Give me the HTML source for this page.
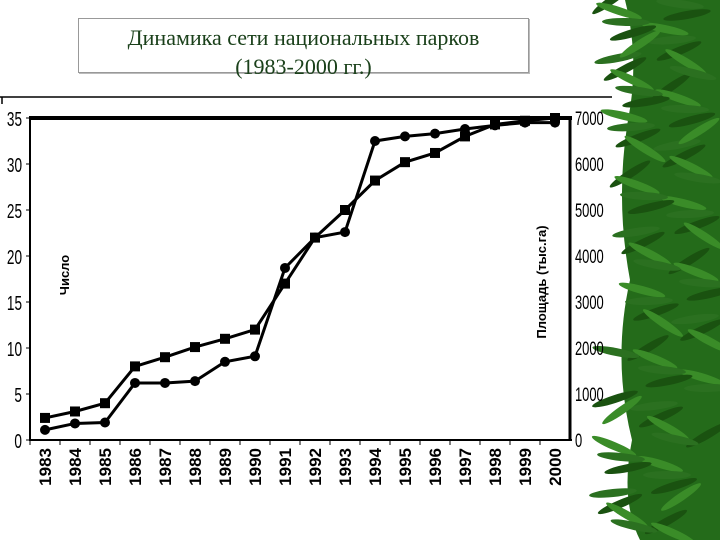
<!DOCTYPE html>
<html><head><meta charset="utf-8">
<style>
body{margin:0;width:720px;height:540px;background:#fff;overflow:hidden;position:relative;font-family:"Liberation Sans",sans-serif}
#title{position:absolute;left:78px;top:18px;width:449px;height:53px;border:1px solid #999;box-shadow:1px 1px 0 #bbb;}
#title div{position:absolute;left:0;width:100%;text-align:center;font-family:"Liberation Serif",serif;font-size:22px;color:#1a401a;line-height:24px}
svg{position:absolute;left:0;top:0}
</style></head><body>
<div id="title">
<div style="top:7px">Динамика сети национальных парков</div>
<div style="top:36px">(1983-2000 гг.)</div>
</div>
<svg id="bam" width="720" height="540"></svg>
<svg id="ch" width="720" height="540"></svg>
<script>
const years=["1983","1984","1985","1986","1987","1988","1989","1990","1991","1992","1993","1994","1995","1996","1997","1998","1999","2000"];
const parkCount=[2.4,3.1,4,8,9,10.1,11,12,17,22,25,28.2,30.2,31.2,33,34.3,34.7,35];
const parkArea=[220,360,380,1240,1240,1280,1700,1820,3740,4400,4520,6500,6600,6660,6760,6840,6900,6900];
const leftTicks=[0,5,10,15,20,25,30,35];
const rightTicks=[0,1000,2000,3000,4000,5000,6000,7000];

const NS="http://www.w3.org/2000/svg";
const ch=document.getElementById('ch');
function mk(t,a,p){const e=document.createElementNS(NS,t);for(const k in a)e.setAttribute(k,a[k]);(p||ch).appendChild(e);return e;}
const X0=45,DX=30,Y0=440,Y1=118;
const xs=i=>X0+i*DX;
const yL=v=>Y0-(v/35)*(Y0-Y1);
const yR=v=>Y0-(v/7000)*(Y0-Y1);

// bamboo
const bam=document.getElementById('bam');
const bg=mk('path',{d:"M720 0 L625 0 Q640 60 628 120 Q615 200 630 280 Q612 360 632 440 Q620 500 640 540 L720 540 Z",fill:"#246b1a"},bam);

for(let i=0;i<80;i++){
  const y=(i*29)%540, x=612+((i*53)%100), ang=-35+((i*47)%70);
  const l=mk('ellipse',{cx:x,cy:y,rx:24,ry:4,fill:(i%3==0?"#1a5210":(i%3==1?"#3a8c28":"#2b7020")),transform:`rotate(${ang} ${x} ${y})`},bam);
  
}

// top rule
let e=mk('line',{x1:0,y1:97,x2:612,y2:97,stroke:"#000","stroke-width":1.5});

e=mk('line',{x1:2,y1:97,x2:2,y2:104,stroke:"#000","stroke-width":1.5});
// frame
e=mk('line',{x1:30,y1:118,x2:572,y2:118,stroke:"#000","stroke-width":4});

e=mk('line',{x1:30,y1:116,x2:30,y2:441,stroke:"#000","stroke-width":2});

e=mk('line',{x1:570,y1:116,x2:570,y2:441,stroke:"#000","stroke-width":3});

e=mk('line',{x1:30,y1:440,x2:572,y2:440,stroke:"#000","stroke-width":2});


leftTicks.forEach(v=>{
  const t=mk('text',{x:0,y:0,"text-anchor":"end","font-size":20,transform:`translate(22,${yL(v)+8}) scale(0.68,1)`});
  t.textContent=v;
  mk('line',{x1:26,y1:yL(v),x2:30,y2:yL(v),stroke:"#000","stroke-width":1});
});
rightTicks.forEach(v=>{
  const t=mk('text',{x:0,y:0,"font-size":19,transform:`translate(575,${yR(v)+7}) scale(0.68,1)`});
  t.textContent=v;
});
years.forEach((y,i)=>{
  const x=xs(i);
  const t=mk('text',{x:0,y:0,"font-size":17,"font-weight":"bold","text-anchor":"end",transform:`translate(${x+6},${448}) rotate(-90)`});
  t.textContent=y;
  mk('line',{x1:x-15,y1:440,x2:x-15,y2:445,stroke:"#000","stroke-width":1});
});
e=mk('text',{x:0,y:0,"font-size":13,"font-weight":"bold","text-anchor":"middle",transform:"translate(69,275) rotate(-90)"});
e.textContent="Число";
e=mk('text',{x:0,y:0,"font-size":13,"font-weight":"bold","text-anchor":"middle",transform:"translate(546,282) rotate(-90)"});
e.textContent="Площадь (тыс.га)";

// series
let p=mk('polyline',{points:parkCount.map((v,i)=>xs(i)+","+yL(v)).join(" "),fill:"none",stroke:"#000","stroke-width":3});

parkCount.forEach((v,i)=>{const r=mk('rect',{x:xs(i)-5,y:yL(v)-5,width:10,height:10,fill:"#000"});
  });
p=mk('polyline',{points:parkArea.map((v,i)=>xs(i)+","+yR(v)).join(" "),fill:"none",stroke:"#000","stroke-width":3});

parkArea.forEach((v,i)=>{const c=mk('circle',{cx:xs(i),cy:yR(v),r:5,fill:"#000"});
  });
</script>
</body></html>
